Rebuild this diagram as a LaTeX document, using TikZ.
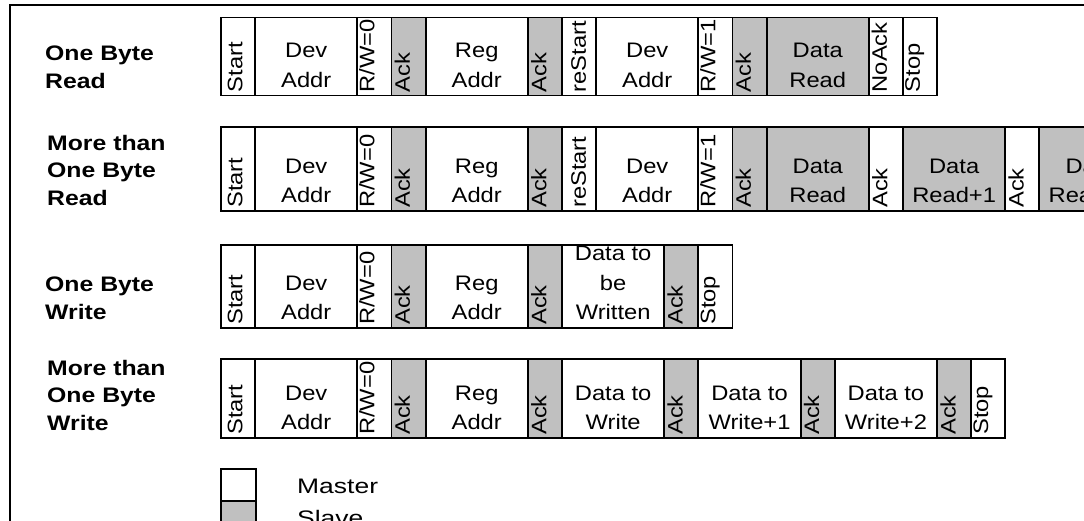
\documentclass[tikz,border=0pt]{standalone}
\usepackage{fontspec}
\setmainfont{Liberation Sans}
\newfontfamily\boxfont[FakeStretch=1.13]{Liberation Sans}
\newfontfamily\legfont[FakeStretch=1.26]{Liberation Sans}
\newfontfamily\lblfont[FakeStretch=1.18]{Liberation Sans}
\definecolor{slavegray}{HTML}{C0C0C0}
\tikzset{
  cellbox/.style={draw=black, line width=1.9pt, inner sep=0pt, outer sep=0pt, anchor=north west},
  mst/.style={fill=white},
  slv/.style={fill=slavegray},
  htext/.style={inner sep=0pt, align=center, font=\boxfont\fontsize{21}{29.5}\selectfont, anchor=south},
  vtext/.style={inner sep=0pt, rotate=90, font=\boxfont\fontsize{21}{24}\selectfont, anchor=north west},
  rowlabel/.style={inner sep=0pt, align=left, anchor=south west, font=\lblfont\bfseries\fontsize{21}{27.5}\selectfont},
  legtext/.style={inner sep=0pt, anchor=base west, font=\legfont\fontsize{21}{24}\selectfont},
  frame/.style={draw=black, line width=1.5pt}
}
\newcommand\curx{221}
\newcommand\rowtop{17}
\newcommand\rowh{79}
\newcommand\hcell[4]{% name, width, fill style, text
  \node[cellbox, #3, minimum width=#2pt, minimum height=\rowh pt] (#1) at (\curx,\rowtop) {};
  \node[htext] (#1t) at ([yshift=8pt]#1.south) {#4};
  \pgfmathsetmacro\nx{\curx+#2}\xdef\curx{\nx}%
}
\newcommand\vcell[5]{% name, width, fill style, text, xoffset
  \node[cellbox, #3, minimum width=#2pt, minimum height=\rowh pt] (#1) at (\curx,\rowtop) {};
  \node[vtext] (#1t) at ([xshift=#5pt,yshift=3pt]#1.south west) {#4};
  \pgfmathsetmacro\nx{\curx+#2}\xdef\curx{\nx}%
}
\def\sw{34.1}
\def\bw{102.3}
\begin{document}
\begin{tikzpicture}[x=1pt,y=-1pt]
\useasboundingbox (0,0) rectangle (1084,520);
\clip (0,0) rectangle (1084,520);
\fill[white] (0,0) rectangle (1084,520);
% outer frame
\draw[frame] (10,5) rectangle (1100,545);

% ---------- Row 1: One Byte Read ----------
\node[rowlabel] (lab1) at (45,88.5) {One Byte\\Read};
\gdef\curx{221}\gdef\rowtop{17.5}\gdef\rowh{78}
\vcell{a1}{\sw}{mst}{Start}{6.5}
\hcell{a2}{\bw}{mst}{Dev\\Addr}
\vcell{a3}{\sw}{mst}{R/W=0}{1.5}
\vcell{a4}{\sw}{slv}{Ack}{3}
\hcell{a5}{\bw}{mst}{Reg\\Addr}
\vcell{a6}{\sw}{slv}{Ack}{3}
\vcell{a7}{\sw}{mst}{reStart}{9}
\hcell{a8}{\bw}{mst}{Dev\\Addr}
\vcell{a9}{\sw}{mst}{R/W=1}{1.5}
\vcell{a10}{\sw}{slv}{Ack}{3}
\hcell{a11}{\bw}{slv}{Data\\Read}
\vcell{a12}{\sw}{mst}{NoAck}{2.5}
\vcell{a13}{\sw}{mst}{Stop}{2}

% ---------- Row 2: More than One Byte Read ----------
\node[rowlabel] (lab2) at (47,205.5) {More than\\One Byte\\Read};
\gdef\curx{221}\gdef\rowtop{127}\gdef\rowh{84}
\vcell{b1}{\sw}{mst}{Start}{6.5}
\hcell{b2}{\bw}{mst}{Dev\\Addr}
\vcell{b3}{\sw}{mst}{R/W=0}{1.5}
\vcell{b4}{\sw}{slv}{Ack}{3}
\hcell{b5}{\bw}{mst}{Reg\\Addr}
\vcell{b6}{\sw}{slv}{Ack}{3}
\vcell{b7}{\sw}{mst}{reStart}{9}
\hcell{b8}{\bw}{mst}{Dev\\Addr}
\vcell{b9}{\sw}{mst}{R/W=1}{1.5}
\vcell{b10}{\sw}{slv}{Ack}{3}
\hcell{b11}{\bw}{slv}{Data\\Read}
\vcell{b12}{\sw}{mst}{Ack}{3}
\hcell{b13}{\bw}{slv}{Data\\Read+1}
\vcell{b14}{\sw}{mst}{Ack}{3}
\hcell{b15}{\bw}{slv}{Data\\Read+2}

% ---------- Row 3: One Byte Write ----------
\node[rowlabel] (lab3) at (45,319.5) {One Byte\\Write};
\gdef\curx{221}\gdef\rowtop{245}\gdef\rowh{83}
\vcell{c1}{\sw}{mst}{Start}{6.5}
\hcell{c2}{\bw}{mst}{Dev\\Addr}
\vcell{c3}{\sw}{mst}{R/W=0}{1.5}
\vcell{c4}{\sw}{slv}{Ack}{3}
\hcell{c5}{\bw}{mst}{Reg\\Addr}
\vcell{c6}{\sw}{slv}{Ack}{3}
\hcell{c7}{\bw}{mst}{Data to\\be\\Written}
\vcell{c8}{\sw}{slv}{Ack}{3}
\vcell{c9}{\sw}{mst}{Stop}{2}

% ---------- Row 4: More than One Byte Write ----------
\node[rowlabel] (lab4) at (47,430.5) {More than\\One Byte\\Write};
\gdef\curx{221}\gdef\rowtop{359}\gdef\rowh{79}
\vcell{d1}{\sw}{mst}{Start}{6.5}
\hcell{d2}{\bw}{mst}{Dev\\Addr}
\vcell{d3}{\sw}{mst}{R/W=0}{1.5}
\vcell{d4}{\sw}{slv}{Ack}{3}
\hcell{d5}{\bw}{mst}{Reg\\Addr}
\vcell{d6}{\sw}{slv}{Ack}{3}
\hcell{d7}{\bw}{mst}{Data to\\Write}
\vcell{d8}{\sw}{slv}{Ack}{3}
\hcell{d9}{\bw}{mst}{Data to\\Write+1}
\vcell{d10}{\sw}{slv}{Ack}{3}
\hcell{d11}{\bw}{mst}{Data to\\Write+2}
\vcell{d12}{\sw}{slv}{Ack}{3}
\vcell{d13}{\sw}{mst}{Stop}{2}

% ---------- Legend ----------
\node[cellbox, mst, minimum width=35pt, minimum height=32pt] (legm) at (221,469) {};
\node[cellbox, slv, minimum width=35pt, minimum height=32pt] (legs) at (221,501) {};
\node[legtext] (legmt) at (297,493.5) {Master};
\node[legtext] (legst) at (297,525.5) {Slave};
\end{tikzpicture}
\end{document}
